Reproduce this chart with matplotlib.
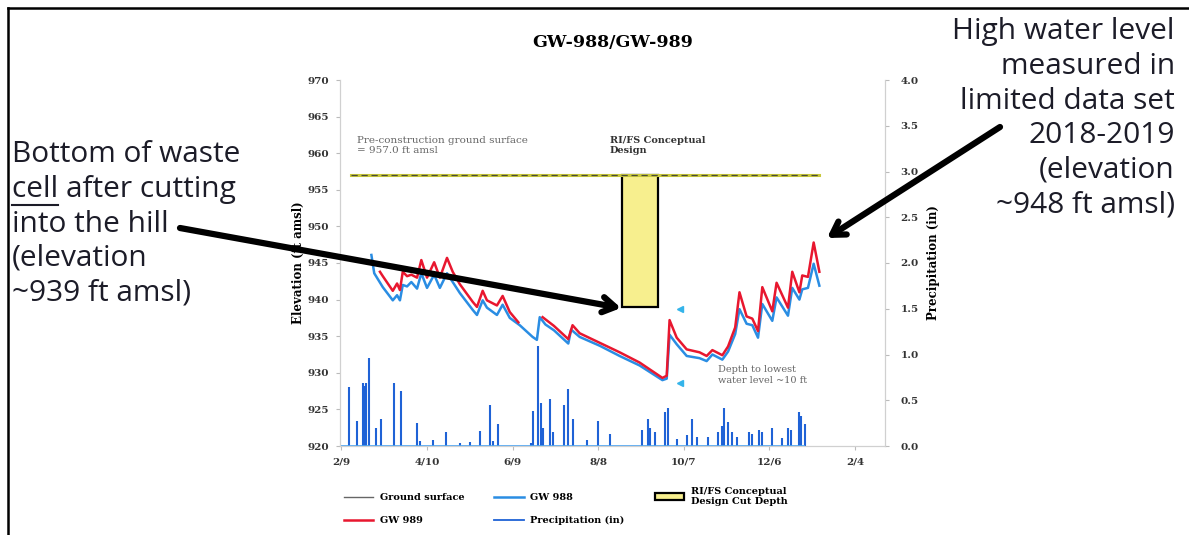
import numpy as np
import matplotlib.pyplot as plt
from matplotlib.lines import Line2D
from matplotlib.patches import Patch

plt.rcParams['font.family'] = ['DejaVu Serif']

# x axis: days counted from 2/9, ticks every 60 days
x_ticks = [0, 60, 120, 180, 240, 300, 360]
x_labels = ['2/9', '4/10', '6/9', '8/8', '10/7', '12/6', '2/4']

# GW 988 water level (ft amsl)
gw988_days = [21, 23, 29, 36, 39, 41, 43, 46, 49, 53, 56, 60, 65, 69, 74, 78, 83, 92, 95, 99,
              102, 109, 113, 118, 125, 134, 137, 139, 143, 149, 159, 161, 167, 181, 195, 209,
              225, 228, 230, 235, 242, 251, 256, 260, 267, 271, 276, 279, 284, 288, 292, 295,
              302, 305, 313, 316, 321, 323, 327, 331, 335]
gw988 = [946.1, 943.6, 941.7, 939.9, 940.6, 939.9, 942.0, 941.8, 942.4, 941.5, 943.6, 941.6,
         943.4, 941.6, 943.6, 942.4, 940.9, 938.6, 937.9, 939.9, 938.9, 937.9, 939.3, 937.5,
         936.5, 934.9, 934.5, 937.6, 936.6, 935.8, 934.0, 935.9, 934.9, 933.7, 932.3, 931.0,
         929.0, 929.2, 935.2, 933.9, 932.3, 932.0, 931.6, 932.5, 931.8, 932.9, 935.3, 938.7,
         936.7, 936.5, 934.8, 939.4, 937.1, 940.3, 937.8, 941.6, 940.0, 941.4, 941.6, 944.9,
         941.9]

# GW 989 water level (ft amsl), gap in the record marked with nan
gw989_days = [27, 29, 36, 39, 41, 43, 46, 49, 53, 56, 60, 65, 69, 74, 78, 83, 92, 95, 99, 102,
              109, 113, 118, 124, 130, 141, 149, 159, 162, 167, 181, 195, 209, 225, 228, 230,
              235, 242, 251, 256, 260, 267, 271, 276, 279, 284, 288, 292, 295, 302, 305, 313,
              316, 321, 323, 327, 331, 335]
gw989 = [943.8, 943.2, 941.2, 942.2, 941.3, 943.8, 943.2, 943.4, 943.0, 945.4, 943.0, 945.1,
         943.0, 945.7, 943.8, 942.1, 939.7, 939.0, 941.2, 939.9, 939.2, 940.5, 938.3, 936.9,
         np.nan, 937.6, 936.4, 934.6, 936.5, 935.4, 934.1, 932.8, 931.4, 929.3, 929.6, 937.2,
         934.8, 933.2, 932.8, 932.3, 933.1, 932.4, 933.6, 936.2, 941.0, 937.7, 937.4, 935.7,
         941.7, 938.4, 942.3, 938.9, 943.8, 941.0, 943.3, 943.1, 947.8, 943.8]

# daily precipitation events (in)
precip_days = [5.6, 11, 15, 16, 17.5, 19, 24, 28, 36.5, 42, 53, 55, 64, 73, 83, 90, 97, 104,
               106, 110, 133, 134, 137.5, 140, 141, 146, 148, 156, 159, 162, 172, 180, 188,
               211, 215, 216, 220, 227, 229, 235, 242, 246, 249, 257, 264, 267, 268, 271, 274,
               277, 286, 288, 293, 295, 302, 309, 313, 315, 321, 322, 325]
precip = [0.65, 0.27, 0.69, 0.66, 0.69, 0.96, 0.2, 0.29, 0.69, 0.6, 0.25, 0.05, 0.07, 0.15,
          0.03, 0.04, 0.16, 0.45, 0.06, 0.24, 0.03, 0.38, 1.09, 0.47, 0.2, 0.51, 0.15, 0.45,
          0.62, 0.29, 0.07, 0.27, 0.13, 0.18, 0.29, 0.2, 0.15, 0.37, 0.41, 0.08, 0.12, 0.3,
          0.1, 0.1, 0.15, 0.22, 0.41, 0.26, 0.15, 0.1, 0.15, 0.13, 0.18, 0.15, 0.2, 0.09, 0.2,
          0.17, 0.37, 0.33, 0.24]

# pre-construction ground surface and RI/FS cut
ground_days = [7, 335]
ground_elev = [957.0, 957.0]
cut_start, cut_end = 197, 222
cut_bottom, cut_top = 939.0, 957.0

# depth-to-lowest-water markers
depth_marker_day = [237, 237]
depth_marker_elev = [938.7, 928.6]

red = '#e8172f'
blue = '#2a8de3'
pblue = '#1f62d6'

fig = plt.figure(figsize=(11.89, 5.35), dpi=100)
ax = fig.add_axes([340/1189, 1-446/535, 545/1189, 366/535])
ax2 = ax.twinx()

ax.plot(ground_days, ground_elev, color='#c8c83c', lw=2.2)
ax.plot(ground_days, ground_elev, color='#4a4a3a', lw=0.9, ls=(0, (5, 3)))
ax.bar((cut_start + cut_end) / 2, cut_top - cut_bottom, bottom=cut_bottom,
       width=cut_end - cut_start, color='#f7ef8e', edgecolor='black', lw=1.6)
ax.plot(gw988_days, gw988, color=blue, lw=1.8)
ax.plot(gw989_days, gw989, color=red, lw=1.8)
ax.plot(depth_marker_day, depth_marker_elev, ls='none', marker='<', ms=5, color='#34b4ea')

ax2.vlines(precip_days, 0, precip, color=pblue, lw=1.5)
ax2.hlines(0, 0, precip_days[-1], color='#4aa3f0', lw=1.2)

ax.set_xlim(-1, 381)
ax.set_ylim(920, 970)
ax2.set_ylim(0, 4)
ax.set_xticks(x_ticks)
ax.set_xticklabels(x_labels)
ax.set_yticks(np.arange(920, 971, 5))
ax2.set_yticks(np.arange(0, 4.01, 0.5))
ax2.set_yticklabels(['%.1f' % v for v in np.arange(0, 4.01, 0.5)])

for a in (ax, ax2):
    a.spines['top'].set_visible(False)
    for s in ('left', 'right', 'bottom'):
        a.spines[s].set_color('#d0d0d0')
        a.spines[s].set_linewidth(0.8)
    a.tick_params(length=3, color='#bbbbbb', labelsize=7.5, labelcolor='#333333')
    for lab in a.get_xticklabels() + a.get_yticklabels():
        lab.set_fontweight('bold')
ax.tick_params(axis='y', pad=5)
ax2.tick_params(axis='y', pad=8)
ax.tick_params(axis='x', pad=5)

ax.set_ylabel('Elevation (ft amsl)', fontsize=8.5, fontweight='bold', labelpad=2)
ax2.set_ylabel('Precipitation (in)', fontsize=8.5, fontweight='bold', labelpad=6)
ax.set_title('GW-988/GW-989', fontsize=12.5, fontweight='bold', pad=24)

ax.text(11, 962.4, 'Pre-construction ground surface\n= 957.0 ft amsl', fontsize=7.5,
        color='#666666', va='top')
ax.text(188, 962.4, 'RI/FS Conceptual\nDesign', fontsize=7, fontweight='bold',
        color='#333333', va='top')
ax.text(264, 931.0, 'Depth to lowest\nwater level ~10 ft', fontsize=7, color='#666666',
        va='top')

# legend below the chart
handles = [Line2D([], [], color='#666666', lw=1),
           Line2D([], [], color=red, lw=1.8),
           Line2D([], [], color=blue, lw=1.8),
           Line2D([], [], color=pblue, lw=1.3),
           Patch(facecolor='#f7ef8e', edgecolor='black', lw=1.6)]
labels = ['Ground surface', 'GW 989', 'GW 988', 'Precipitation (in)',
          'RI/FS Conceptual\nDesign Cut Depth']
fig.legend(handles, labels, ncol=3, loc='upper left', bbox_to_anchor=(335/1189, 1-478/535),
           frameon=False, prop={'weight': 'bold', 'size': 7}, handlelength=3,
           columnspacing=3.1, labelspacing=1.45, handletextpad=0.7)

# slide annotations
note_font = {'family': 'Open Sans', 'size': 21.5, 'color': '#1c1c28'}
left_lines = ['Bottom of waste', 'cell after cutting', 'into the hill', '(elevation',
              '~939 ft amsl)']
for i, line in enumerate(left_lines):
    fig.text(12/1189, 1-(155 + 34.5*i)/535, line, va='center', ha='left', **note_font)
# underline "cell"
probe = fig.text(12/1189, 1-189.5/535, 'cell', va='center', ha='left', alpha=0, **note_font)
fig.canvas.draw()
bb = probe.get_window_extent()
fig.add_artist(Line2D([bb.x0/1189, bb.x1/1189], [(bb.y0 - 1)/535, (bb.y0 - 1)/535],
                      color='#1c1c28', lw=1.5))

right_lines = ['High water level', 'measured in', 'limited data set', '2018-2019',
               '(elevation', '~948 ft amsl)']
for i, line in enumerate(right_lines):
    fig.text(1175/1189, 1-(32 + 34.6*i)/535, line, va='center', ha='right', **note_font)

arrow = dict(arrowstyle='->,head_length=0.9,head_width=0.55', color='black', lw=4.5,
             shrinkA=0, shrinkB=0)
fig.add_artist(plt.Annotation('', xy=(621, 535-308), xytext=(180, 535-228),
                              xycoords='figure pixels', arrowprops=arrow))
fig.add_artist(plt.Annotation('', xy=(827, 535-238), xytext=(1000, 535-127),
                              xycoords='figure pixels', arrowprops=arrow))

# slide frame
fig.add_artist(Line2D([8/1189, 8/1189], [0, 1-8/535], color='black', lw=1.8))
fig.add_artist(Line2D([8/1189, 1], [1-8/535, 1-8/535], color='black', lw=1.8))

fig.savefig('out.png', dpi=100)
